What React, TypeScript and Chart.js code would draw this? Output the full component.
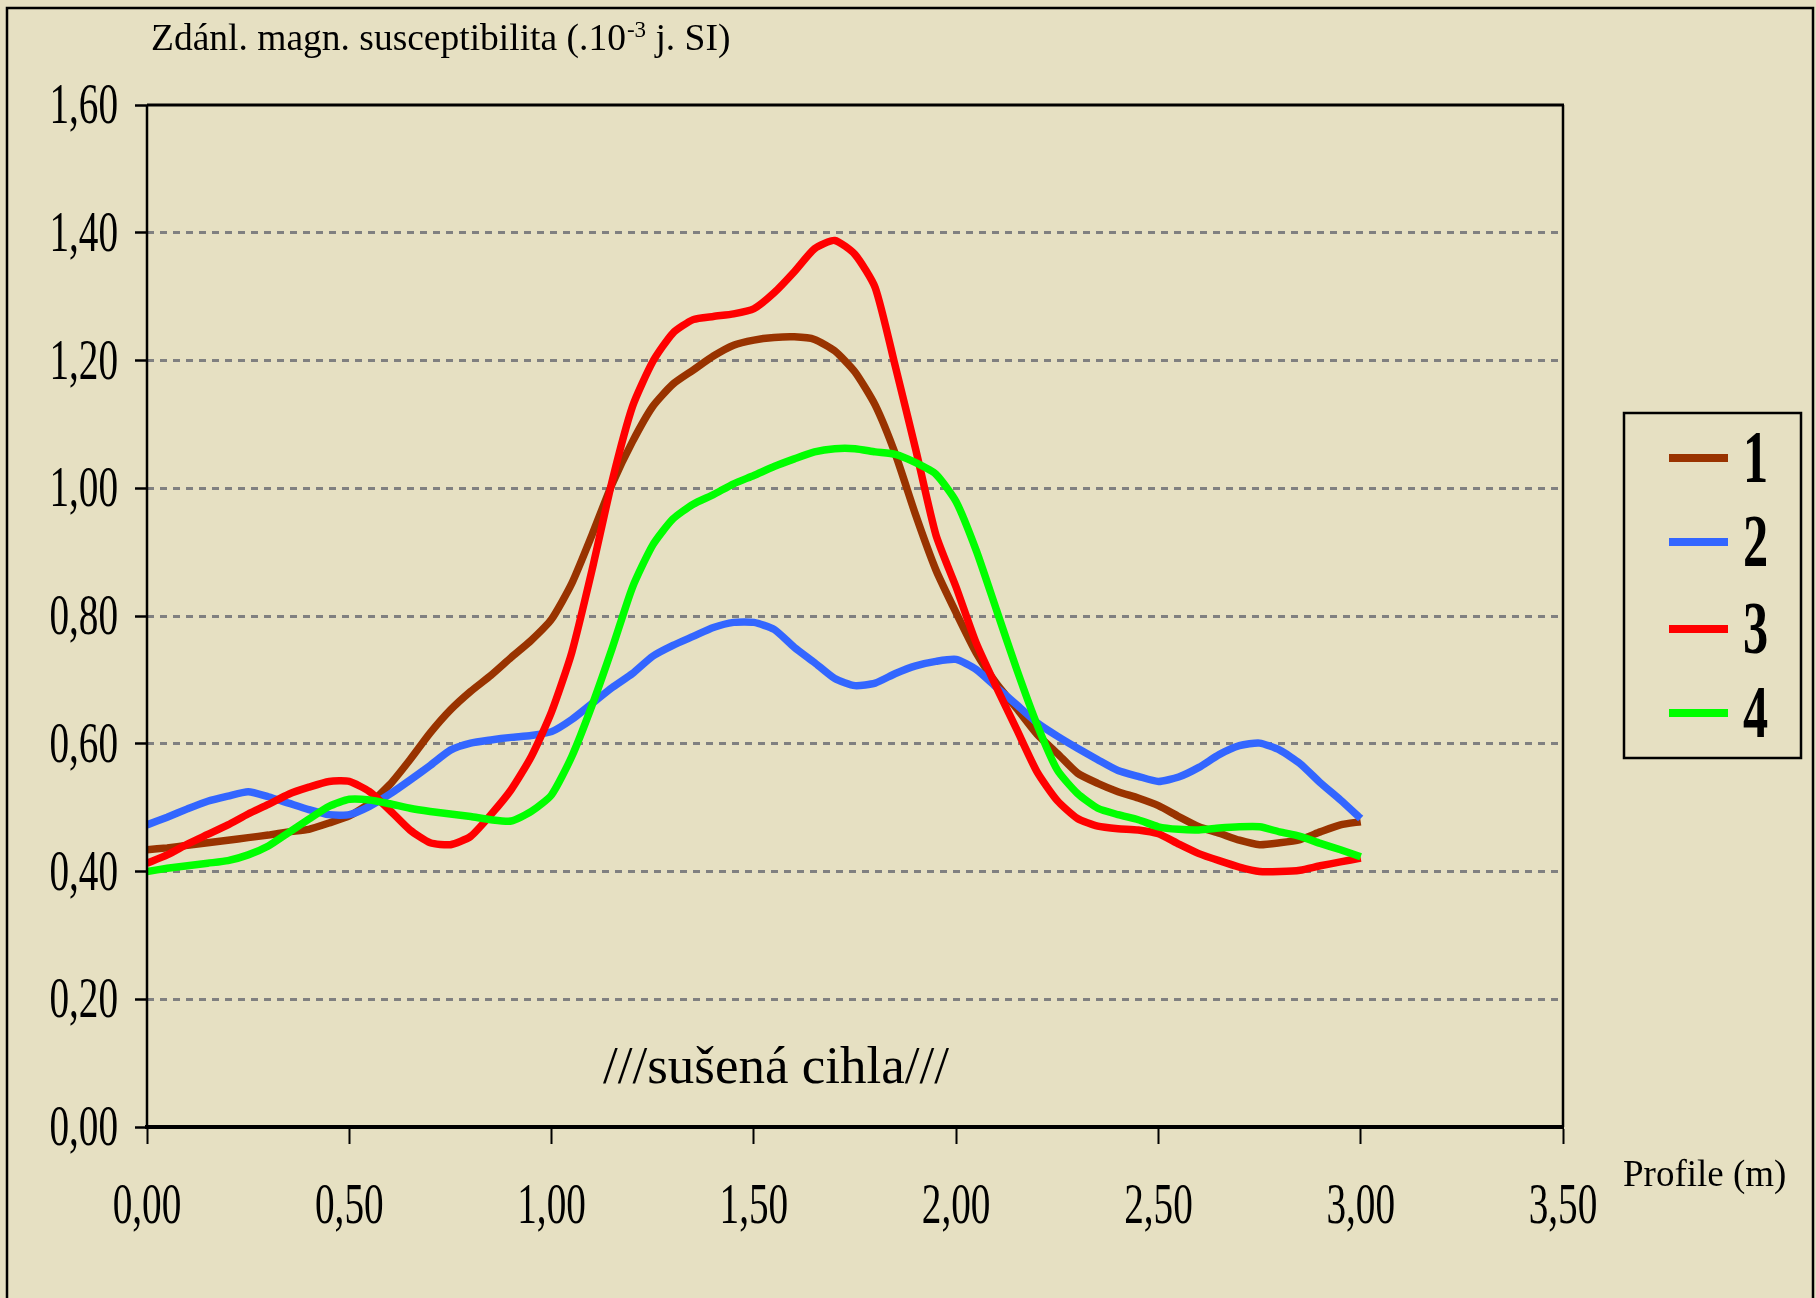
import React, { useEffect, useRef } from "react";
import { Chart, registerables } from "chart.js";

Chart.register(...registerables);

// Profile positions (m)
const positions = [
  0.0, 0.05, 0.1, 0.15, 0.2, 0.25, 0.3, 0.35, 0.4, 0.45,
  0.5, 0.55, 0.6, 0.65, 0.7, 0.75, 0.8, 0.85, 0.9, 0.95,
  1.0, 1.05, 1.1, 1.15, 1.2, 1.25, 1.3, 1.35, 1.4, 1.45,
  1.5, 1.55, 1.6, 1.65, 1.7, 1.75, 1.8, 1.85, 1.9, 1.95,
  2.0, 2.05, 2.1, 2.15, 2.2, 2.25, 2.3, 2.35, 2.4, 2.45,
  2.5, 2.55, 2.6, 2.65, 2.7, 2.75, 2.8, 2.85, 2.9, 2.95,
  3.0,
];

const series1 = [
  0.434, 0.437, 0.441, 0.445, 0.449, 0.453, 0.457, 0.462, 0.466, 0.476,
  0.487, 0.507, 0.536, 0.575, 0.617, 0.653, 0.682, 0.707, 0.735, 0.762,
  0.795, 0.851, 0.927, 1.007, 1.073, 1.128, 1.163, 1.185, 1.207, 1.224,
  1.232, 1.236, 1.237, 1.233, 1.215, 1.182, 1.13, 1.053, 0.958, 0.872,
  0.805, 0.742, 0.694, 0.655, 0.615, 0.585, 0.554, 0.538, 0.525, 0.515,
  0.503, 0.486, 0.47, 0.46, 0.449, 0.442, 0.445, 0.45, 0.462, 0.473,
  0.478,
];

const series2 = [
  0.473, 0.485, 0.498, 0.51, 0.518, 0.525, 0.517, 0.507, 0.497, 0.489,
  0.489, 0.502, 0.521, 0.543, 0.566, 0.59, 0.601, 0.606, 0.61, 0.613,
  0.619, 0.638, 0.663, 0.688, 0.71, 0.737, 0.754, 0.768, 0.782, 0.79,
  0.79, 0.779, 0.751, 0.727, 0.702, 0.691, 0.695, 0.71, 0.722, 0.729,
  0.732, 0.716, 0.688, 0.661, 0.633, 0.612, 0.593, 0.575, 0.558, 0.549,
  0.541, 0.548, 0.563, 0.583, 0.597, 0.601, 0.59, 0.569, 0.539, 0.512,
  0.483,
];

const series3 = [
  0.413, 0.426, 0.443, 0.458, 0.473, 0.49, 0.505, 0.521, 0.532, 0.541,
  0.541, 0.525, 0.496, 0.465, 0.445, 0.442, 0.455, 0.489, 0.528, 0.58,
  0.65, 0.743, 0.872, 1.012, 1.128, 1.198, 1.243, 1.264, 1.269, 1.273,
  1.281, 1.306, 1.339, 1.375, 1.388, 1.366, 1.314, 1.19, 1.061, 0.927,
  0.845, 0.757, 0.688, 0.622, 0.556, 0.511, 0.483, 0.471, 0.467, 0.465,
  0.459, 0.443, 0.428, 0.417, 0.407, 0.4, 0.4, 0.402, 0.409, 0.415,
  0.421,
];

const series4 = [
  0.4, 0.405, 0.409, 0.413, 0.417, 0.426, 0.44, 0.461, 0.482, 0.502,
  0.513, 0.512, 0.506, 0.499, 0.494, 0.49, 0.486, 0.481, 0.479, 0.494,
  0.52, 0.58, 0.66, 0.75, 0.845, 0.911, 0.952, 0.975, 0.99, 1.007,
  1.02, 1.034, 1.046, 1.057, 1.062, 1.062, 1.057, 1.053, 1.04, 1.022,
  0.979, 0.902, 0.809, 0.716, 0.63, 0.559, 0.522, 0.499, 0.489, 0.481,
  0.47, 0.466, 0.465, 0.468, 0.47, 0.47, 0.462, 0.455, 0.444, 0.434,
  0.423,
];

const seriesNames = ["1", "2", "3", "4"];
const seriesColors = ["#993300", "#3366FF", "#FF0000", "#00FF00"];
const seriesValues = [series1, series2, series3, series4];

const yTitleMain = "Zdánl. magn. susceptibilita (.10";
const yTitleSup = "-3";
const yTitleEnd = " j. SI)";
const xTitle = "Profile (m)";
const noteText = "///sušená cihla///";

const X_MIN = 0;
const X_MAX = 3.5;
const X_STEP = 0.5;
const Y_MIN = 0;
const Y_MAX = 1.6;
const Y_STEP = 0.2;

const BG = "#E6E0C2";
const SERIF = '"Liberation Serif", "Times New Roman", serif';

const fmt = (v: number) => v.toFixed(2).replace(".", ",");

function condensedText(
  ctx: CanvasRenderingContext2D,
  text: string,
  x: number,
  y: number,
  font: string,
  sx: number,
  align: CanvasTextAlign
) {
  ctx.save();
  ctx.font = font;
  ctx.textAlign = align;
  ctx.textBaseline = "alphabetic";
  ctx.translate(x, y);
  ctx.scale(sx, 1);
  ctx.fillText(text, 0, 0);
  ctx.restore();
}

const decorPlugin = {
  id: "decor",
  beforeDraw(chart: any) {
    const ctx = chart.ctx as CanvasRenderingContext2D;
    ctx.save();
    ctx.fillStyle = BG;
    ctx.fillRect(0, 0, chart.width, chart.height);
    // outer frame
    ctx.strokeStyle = "#000";
    ctx.lineWidth = 2.5;
    ctx.strokeRect(7, 8, chart.width - 10, chart.height + 20);
    ctx.restore();
  },
  afterDraw(chart: any) {
    const ctx = chart.ctx as CanvasRenderingContext2D;
    const area = chart.chartArea;
    const xs = chart.scales.x;
    const ys = chart.scales.y;
    ctx.save();
    ctx.fillStyle = "#000";
    ctx.strokeStyle = "#000";

    // y axis line
    ctx.lineWidth = 2.5;
    ctx.beginPath();
    ctx.moveTo(area.left, area.top);
    ctx.lineTo(area.left, area.bottom);
    ctx.stroke();
    // top border
    ctx.lineWidth = 3;
    ctx.beginPath();
    ctx.moveTo(area.left, area.top);
    ctx.lineTo(area.right + 1, area.top);
    ctx.stroke();
    // right border
    ctx.lineWidth = 2.5;
    ctx.beginPath();
    ctx.moveTo(area.right, area.top);
    ctx.lineTo(area.right, area.bottom);
    ctx.stroke();

    // y tick labels
    ys.ticks.forEach((t: any) => {
      const py = ys.getPixelForValue(t.value);
      condensedText(ctx, fmt(t.value), area.left - 29, py + 18, `56px ${SERIF}`, 0.7, "right");
    });
    // x tick labels
    xs.ticks.forEach((t: any) => {
      const px = xs.getPixelForValue(t.value);
      condensedText(ctx, fmt(t.value), px, area.bottom + 96, `56px ${SERIF}`, 0.7, "center");
    });

    // y title with superscript
    ctx.textBaseline = "alphabetic";
    ctx.textAlign = "left";
    ctx.font = `37.5px ${SERIF}`;
    let tx = 151;
    const ty = 50;
    ctx.fillText(yTitleMain, tx, ty);
    tx += ctx.measureText(yTitleMain).width + 1;
    ctx.font = `23px ${SERIF}`;
    ctx.fillText(yTitleSup, tx, ty - 13);
    tx += ctx.measureText(yTitleSup).width;
    ctx.font = `37.5px ${SERIF}`;
    ctx.fillText(yTitleEnd, tx, ty);

    // x title
    ctx.font = `37px ${SERIF}`;
    ctx.fillText(xTitle, 1623, 1186);

    // note
    ctx.font = `53px ${SERIF}`;
    ctx.fillText(noteText, 603, 1083);

    // legend
    ctx.lineWidth = 2.5;
    ctx.strokeRect(1624, 413, 177, 345);
    const legendY = [458, 542, 629, 713];
    chart.data.datasets.forEach((ds: any, i: number) => {
      ctx.strokeStyle = ds.borderColor;
      ctx.lineWidth = 8;
      ctx.beginPath();
      ctx.moveTo(1669, legendY[i]);
      ctx.lineTo(1728, legendY[i]);
      ctx.stroke();
      ctx.fillStyle = "#000";
      condensedText(ctx, ds.label, 1743, legendY[i] + 24, `bold 74px ${SERIF}`, 0.68, "left");
    });
    ctx.restore();
  },
};

export default function App() {
  const canvasRef = useRef<HTMLCanvasElement | null>(null);

  useEffect(() => {
    document.body.style.margin = "0";
    document.body.style.overflow = "hidden";
    document.body.style.background = BG;
    const canvas = canvasRef.current;
    if (!canvas) return;

    const isEdge = (v: number) => Math.abs(v - Y_MIN) < 1e-6 || Math.abs(v - Y_MAX) < 1e-6;

    const chart = new Chart(canvas, {
      type: "line",
      data: {
        datasets: seriesValues.map((vals, i) => ({
          label: seriesNames[i],
          data: positions.map((p, j) => ({ x: p, y: vals[j] })),
          borderColor: seriesColors[i],
          backgroundColor: seriesColors[i],
          borderWidth: 7.5,
          pointRadius: 0,
          tension: 0.2,
          fill: false,
          order: 4 - i,
        })),
      },
      options: {
        responsive: false,
        animation: false,
        devicePixelRatio: 1,
        events: [],
        layout: { padding: { left: 135, right: 253, top: 105, bottom: 154 } },
        plugins: {
          legend: { display: false },
          tooltip: { enabled: false },
          title: { display: false },
        },
        scales: {
          x: {
            type: "linear",
            min: X_MIN,
            max: X_MAX,
            ticks: { display: false, stepSize: X_STEP },
            grid: {
              color: "rgba(0,0,0,0)",
              drawTicks: true,
              tickLength: 17,
              tickColor: "#000",
              tickWidth: 2,
            },
            border: { display: true, color: "#000", width: 4 },
          },
          y: {
            type: "linear",
            min: Y_MIN,
            max: Y_MAX,
            ticks: { display: false, stepSize: Y_STEP },
            grid: {
              color: (c: any) => (isEdge(c.tick.value) ? "rgba(0,0,0,0)" : "#808080"),
              lineWidth: 3,
              drawTicks: true,
              tickLength: 12,
              tickColor: "#000",
              tickWidth: 2.5,
              tickBorderDash: [],
              borderDash: [7, 6],
            } as any,
            border: { display: false, dash: [7, 6] },
          },
        },
      } as any,
      plugins: [decorPlugin],
    });

    return () => chart.destroy();
  }, []);

  return <canvas ref={canvasRef} width={1816} height={1298} style={{ display: "block" }} />;
}
